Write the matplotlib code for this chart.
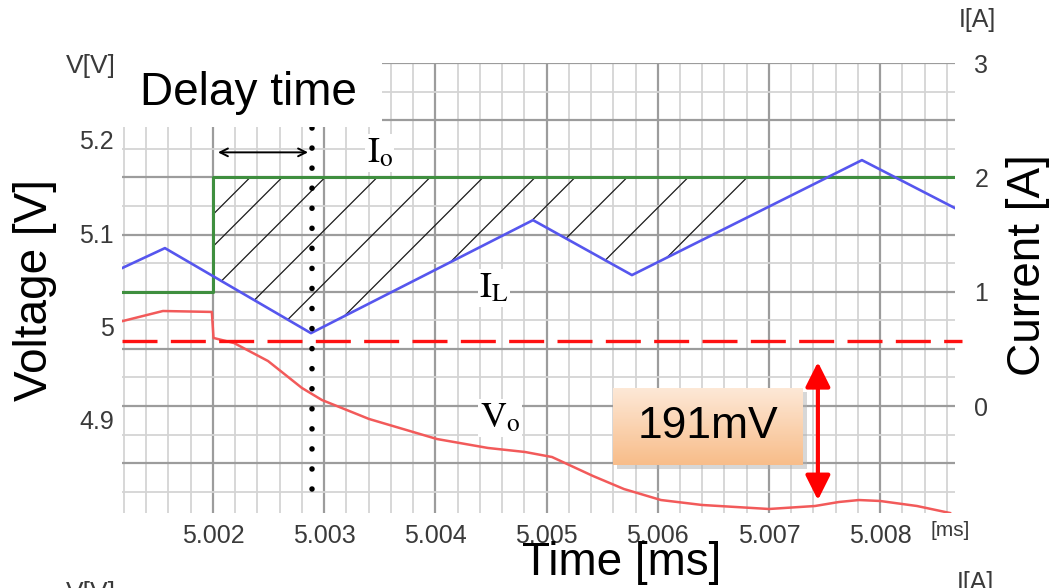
import numpy as np
import matplotlib.pyplot as plt
from matplotlib.ticker import MultipleLocator, FuncFormatter
from matplotlib.patches import Rectangle
from matplotlib.colors import LinearSegmentedColormap

plt.rcParams['font.family'] = ['Liberation Sans', 'DejaVu Sans']
plt.rcParams['mathtext.fontset'] = 'stix'

# inductor current I_L (blue)
il_t = [5.001182, 5.001568, 5.002881, 5.004878, 5.005768, 5.007836, 5.008673]
il_i = [1.207, 1.382, 0.638, 1.627, 1.146, 2.152, 1.732]

# load current I_o (green), step 1 A -> 2 A
io_t = [5.001182, 5.002, 5.002, 5.008673]
io_i = [1.0, 1.0, 2.0, 2.0]

# output voltage V_o (red)
vo_t = [5.001191, 5.001550, 5.001990, 5.002005, 5.002189, 5.002495, 5.002800,
        5.002980, 5.003403, 5.004014, 5.004473, 5.004806, 5.005049, 5.005417,
        5.005696, 5.006029, 5.006398, 5.007000, 5.007414, 5.007629, 5.007809,
        5.007998, 5.008331, 5.008628]
vo_v = [5.006, 5.0167, 5.0157, 4.9878, 4.9824, 4.9631, 4.9342,
        4.9213, 4.9010, 4.8795, 4.8699, 4.8656, 4.8602, 4.8399,
        4.8259, 4.8141, 4.8088, 4.8045, 4.8077, 4.8120, 4.8141,
        4.8131, 4.8077, 4.8002]

v_ref = 4.9846          # red dashed level
t_step = 5.002          # load step
t_delay = 5.00289       # dotted marker (end of delay)
delay_i = 2.22
drop_t = 5.00744
drop_v = [4.962, 4.814]
hatch_tops = [5.002333, 5.002621, 5.003007, 5.003475, 5.003951, 5.004428,
              5.004896, 5.005255, 5.005723, 5.006272, 5.006802]

v_ticks = [4.9, 5.0, 5.1, 5.2]
v_ticklabels = ['4.9', '5', '5.1', '5.2']

t_lim = (5.001182, 5.008673)
i_lim = (-0.936, 3.002)
v_lim = (4.8002, 5.2825)

W, H = 1063, 588
fig = plt.figure(figsize=(W / 100, H / 100), dpi=100)
ax_px = (122, 75, 833, 450)
ax = fig.add_axes([ax_px[0] / W, ax_px[1] / H, ax_px[2] / W, ax_px[3] / H])
ax.set_xlim(*t_lim)
ax.set_ylim(*i_lim)

# grid
ax.xaxis.set_major_locator(MultipleLocator(0.001))
ax.xaxis.set_minor_locator(MultipleLocator(0.0002))
ax.yaxis.set_major_locator(MultipleLocator(0.5))
ax.yaxis.set_minor_locator(MultipleLocator(0.25))
ax.xaxis.set_major_formatter(FuncFormatter(lambda v, _: f'{v:.3f}'))
ax.yaxis.set_major_formatter(FuncFormatter(
    lambda v, _: f'{int(round(v))}' if abs(v - round(v)) < 1e-6 and v >= 0 else ''))
ax.grid(which='major', color='#9c9c9c', lw=1.6)
ax.grid(which='minor', color='#d4d4d4', lw=1.3)
ax.set_axisbelow(True)
for s in ax.spines.values():
    s.set_visible(False)

# hatch between I_L and I_o after the step (45 deg in screen space)
kx = (t_lim[1] - t_lim[0]) / ax_px[2]
ky = (i_lim[1] - i_lim[0]) / ax_px[3]
s = np.arange(0, 300, 0.25)
for t0 in hatch_tops:
    tt = t0 - s * kx
    ii = io_i[-1] - s * ky
    stop = (ii <= np.interp(tt, il_t, il_i)) | (tt <= t_step)
    k = int(np.argmax(stop))
    ax.plot(tt[:k + 1], ii[:k + 1], color='#1a1a1a', lw=0.9, zorder=2)

ax.plot(io_t, io_i, color='#3f8f3f', lw=2.2, zorder=3)
ax.plot(il_t, il_i, color='#5656ee', lw=1.9, zorder=3)

# dotted delay marker and delay arrow
ax.plot([t_delay, t_delay], [2.43, -0.73], color='black', lw=4,
        ls=(0, (0.01, 3.6)), dash_capstyle='round', zorder=4)
ax.annotate('', xy=(t_step + 0.00002, delay_i), xytext=(t_delay - 0.00001, delay_i),
            arrowprops=dict(arrowstyle='<->', color='black', lw=1.4, mutation_scale=14))

lab_box = dict(facecolor='white', edgecolor='none', pad=1)
ax.text(5.00350, 2.213, r'$\mathrm{I}_{\mathrm{o}}$', fontsize=26, ha='center', va='center',
        bbox=lab_box, zorder=5)
ax.text(5.004527, 1.032, r'$\mathrm{I}_{\mathrm{L}}$', fontsize=26, ha='center', va='center',
        bbox=lab_box, zorder=5)
ax.text(5.004581, -0.105, r'$\mathrm{V}_{\mathrm{o}}$', fontsize=26, ha='center', va='center',
        bbox=lab_box, zorder=5)

# voltage axis on the left
axv = ax.twinx()
axv.set_ylim(*v_lim)
axv.yaxis.tick_left()
axv.set_yticks(v_ticks)
axv.set_yticklabels(v_ticklabels)
axv.tick_params(length=0, labelsize=18, labelcolor='#3a3a3a', pad=6)
for s_ in axv.spines.values():
    s_.set_visible(False)

# current ticks go on the right (after twinx, which resets them)
ax.yaxis.tick_right()
ax.tick_params(which='both', length=0)
ax.tick_params(axis='x', labelsize=18, labelcolor='#3a3a3a', pad=8)
ax.tick_params(axis='y', labelsize=18, labelcolor='#3a3a3a', pad=14)

axv.plot(vo_t, vo_v, color='#f25a5a', lw=1.8, zorder=3)
axv.plot([t_lim[0], t_lim[1] + 0.00006], [v_ref, v_ref], color='#ff1111', lw=2.4,
         dashes=(10.5, 4), clip_on=False, zorder=4)
axv.annotate('', xy=(drop_t, drop_v[1]), xytext=(drop_t, drop_v[0]),
             arrowprops=dict(arrowstyle='<|-|>,head_length=0.6,head_width=0.3',
                             color='#ff0000', lw=3, mutation_scale=25,
                             shrinkA=0, shrinkB=0))

# axis titles and extra labels
fig.text(35 / W, 1 - 290 / H, 'Voltage [V]', rotation=90, fontsize=33,
         ha='center', va='center')
fig.text(1028 / W, 1 - 265 / H, 'Current [A]', rotation=90, fontsize=33,
         ha='center', va='center')
fig.text(622 / W, 1 - 563 / H, 'Time [ms]', fontsize=33, ha='center', va='center')
fig.text(950 / W, 1 - 531 / H, '[ms]', fontsize=15, color='#3a3a3a',
         ha='center', va='center')
fig.text(977 / W, 1 - 20 / H, 'I[A]', fontsize=18, color='#3a3a3a',
         ha='center', va='center')
fig.text(66 / W, 1 - 66 / H, 'V[V]', fontsize=19, color='#3a3a3a',
         ha='left', va='center', zorder=4)
fig.text(957 / W, 1 - 571 / H, 'I[A]', fontsize=18, color='#3a3a3a',
         ha='left', va='top')
fig.text(66 / W, 1 - 581 / H, 'V[V]', fontsize=19, color='#3a3a3a',
         ha='left', va='top')

# white "Delay time" box over the top-left of the grid
fig.patches.append(Rectangle((113 / W, 1 - 127 / H), 269 / W, 71 / H,
                             transform=fig.transFigure, facecolor='white',
                             edgecolor='none', zorder=5))
fig.text(248 / W, 1 - 93 / H, 'Delay time', fontsize=33, ha='center',
         va='center', zorder=6)

# 191mV gradient box with shadow
bx, by, bw, bh = 613, 388, 190, 77
fig.patches.append(Rectangle(((bx + 4) / W, 1 - (by + bh + 4) / H), bw / W, bh / H,
                             transform=fig.transFigure, facecolor='#b0b0b0',
                             alpha=0.5, edgecolor='none', zorder=5))
bax = fig.add_axes([bx / W, 1 - (by + bh) / H, bw / W, bh / H], zorder=6)
peach = LinearSegmentedColormap.from_list('peach', ['#fde8d6', '#f8bd8a'])
bax.imshow(np.linspace(0, 1, 64).reshape(-1, 1), aspect='auto', cmap=peach)
bax.axis('off')
bax.text(0.5, 0.5, '191mV', fontsize=32, ha='center', va='center',
         transform=bax.transAxes)

fig.savefig('out.png', dpi=100)
